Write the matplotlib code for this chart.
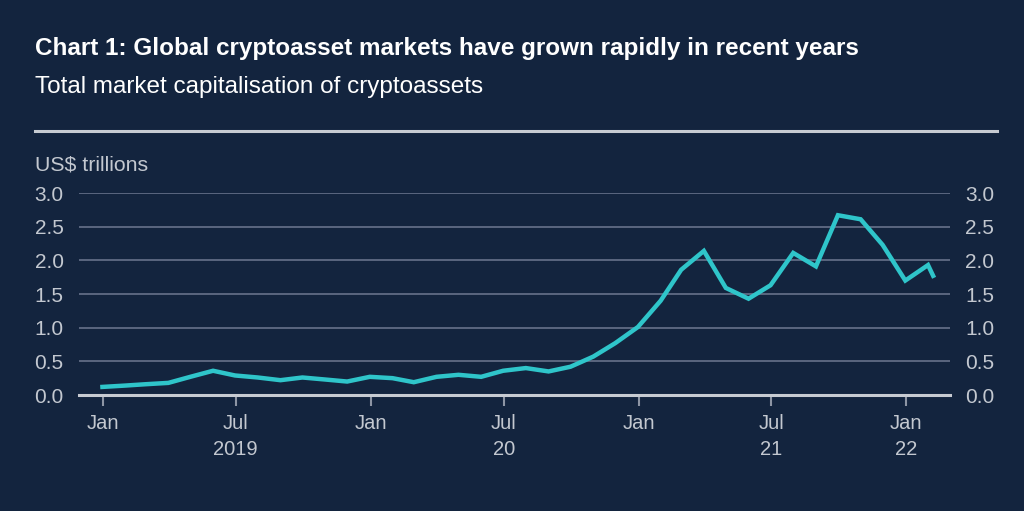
import matplotlib
matplotlib.use("Agg")
import matplotlib.pyplot as plt
import pandas as pd

# ---- data ----
dates = [
    "2018-12-31", "2019-01-31", "2019-02-28", "2019-03-31", "2019-04-30", "2019-05-31",
    "2019-06-30", "2019-07-31", "2019-08-31", "2019-09-30", "2019-10-31", "2019-11-30",
    "2019-12-31", "2020-01-31", "2020-02-29", "2020-03-31", "2020-04-30", "2020-05-31",
    "2020-06-30", "2020-07-31", "2020-08-31", "2020-09-30", "2020-10-31", "2020-11-30",
    "2020-12-31", "2021-01-31", "2021-02-28", "2021-03-31", "2021-04-30", "2021-05-31",
    "2021-06-30", "2021-07-31", "2021-08-31", "2021-09-30", "2021-10-31", "2021-11-30",
    "2021-12-31", "2022-01-31", "2022-02-07",
]
market_cap = [
    0.12, 0.14, 0.16, 0.18, 0.27, 0.36,
    0.29, 0.26, 0.22, 0.26, 0.23, 0.20,
    0.27, 0.25, 0.19, 0.27, 0.30, 0.27,
    0.36, 0.40, 0.35, 0.42, 0.57, 0.77,
    1.01, 1.40, 1.86, 2.14, 1.59, 1.43,
    1.63, 2.11, 1.91, 2.67, 2.61, 2.23,
    1.70, 1.93, 1.77,
]
y_ticks = [0.0, 0.5, 1.0, 1.5, 2.0, 2.5, 3.0]
x_tick_dates = ["2019-01-01", "2019-07-01", "2020-01-01", "2020-07-01",
                "2021-01-01", "2021-07-01", "2022-01-01"]
x_tick_labels = ["Jan", "Jul\n2019", "Jan", "Jul\n20", "Jan", "Jul\n21", "Jan\n22"]

title = "Chart 1: Global cryptoasset markets have grown rapidly in recent years"
subtitle = "Total market capitalisation of cryptoassets"
unit = "US$ trillions"

# ---- style ----
BG = "#13243e"
LINE = "#2fc5ca"
TXT = "#ffffff"
LABEL = "#c3c8d0"
GRID = "#66718a"
plt.rcParams["font.family"] = ["Liberation Sans", "DejaVu Sans"]

fig = plt.figure(figsize=(10.24, 5.11), dpi=100, facecolor=BG)
ax = fig.add_axes([79 / 1024, 1 - 395 / 511, (950 - 79) / 1024, (395 - 193) / 511])
ax.set_facecolor(BG)

x = pd.to_datetime(dates)
ax.plot(x, market_cap, color=LINE, lw=3.2, solid_joinstyle="miter", zorder=3)

ax.set_ylim(0, 3.0)
ax.set_xlim(pd.Timestamp("2018-11-29"), pd.Timestamp("2022-03-02"))
ax.set_yticks(y_ticks)
ax.set_yticklabels([f"{v:.1f}" for v in y_ticks])
ax.yaxis.grid(True, color=GRID, lw=1.2)
ax.set_axisbelow(True)
ax.tick_params(axis="y", length=0, labelsize=15, colors=LABEL, pad=11,
               labelright=True, right=False)
ax.set_xticks(pd.to_datetime(x_tick_dates))
ax.set_xticklabels(x_tick_labels, linespacing=1.45)
ax.tick_params(axis="x", length=8, width=1.5, color="#8d95a4", labelsize=14.5,
               pad=6)
for lab in ax.get_xticklabels():
    lab.set_color(LABEL)
for s in ["top", "left", "right"]:
    ax.spines[s].set_visible(False)
ax.spines["bottom"].set_color("#c7cbd2")
ax.spines["bottom"].set_linewidth(2.2)
ax.spines["bottom"].set_zorder(4)

fig.text(35 / 1024, 1 - 49 / 511, title, color=TXT, fontsize=17.5,
         fontweight="bold", va="center", ha="left")
fig.text(35 / 1024, 1 - 87 / 511, subtitle, color=TXT, fontsize=17.5,
         va="center", ha="left")
fig.text(35 / 1024, 1 - 165 / 511, unit, color=LABEL, fontsize=15.3,
         va="center", ha="left")
fig.add_artist(plt.Line2D([35 / 1024, 997 / 1024], [1 - 131 / 511] * 2,
                          color="#c7cbd2", lw=2.2, transform=fig.transFigure))

fig.savefig("out.png", dpi=100, facecolor=BG)
